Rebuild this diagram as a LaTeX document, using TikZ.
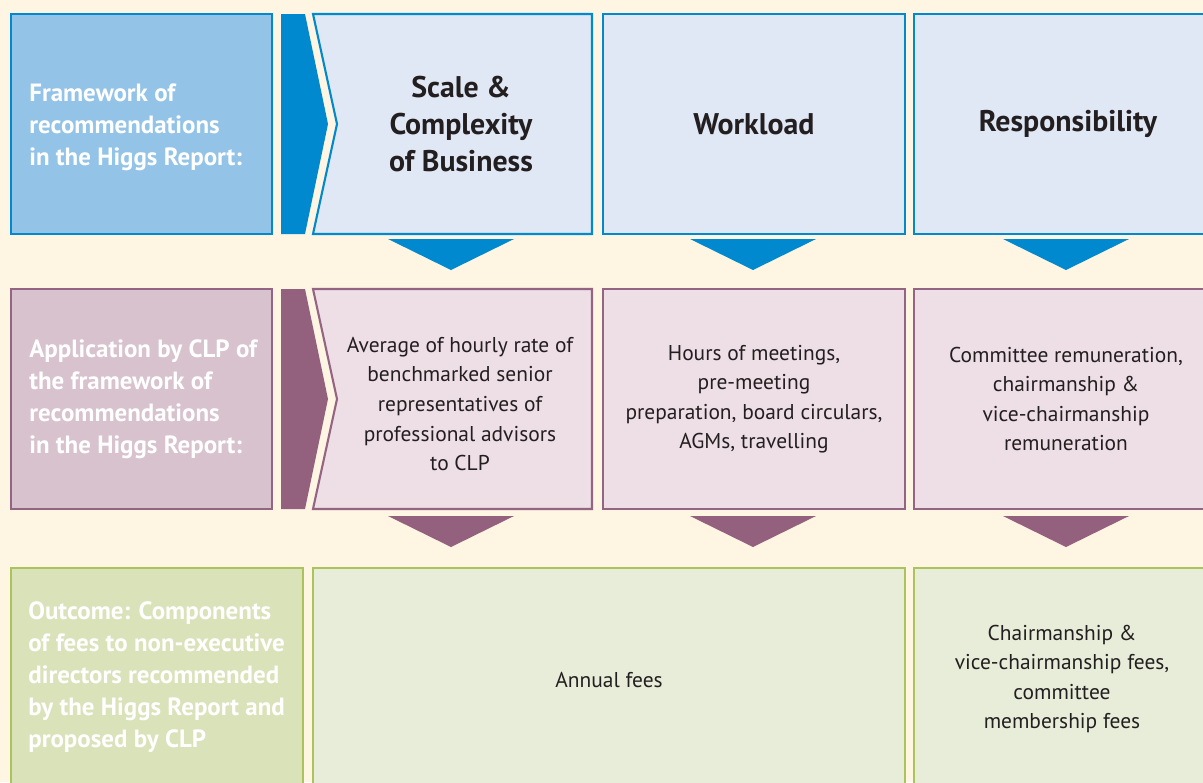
\documentclass[tikz,border=0pt]{standalone}
\usepackage{fontspec}
\setmainfont{PT Sans}
\definecolor{cream}{HTML}{FEF5E3}
\definecolor{ink}{HTML}{231F20}
\definecolor{blueline}{HTML}{0089CF}
\definecolor{bluedark}{HTML}{93C3E7}
\definecolor{bluelight}{HTML}{E1E8F5}
\definecolor{plumline}{HTML}{946483}
\definecolor{plumdark}{HTML}{D7C2CD}
\definecolor{plumlight}{HTML}{EEDEE5}
\definecolor{plumbar}{HTML}{93607E}
\definecolor{greenline}{HTML}{ABC35B}
\definecolor{greendark}{HTML}{DAE2BA}
\definecolor{greenlight}{HTML}{E8EDD9}
\tikzset{
  boxline/.style  = {line width=1.2pt},
  sidetext/.style = {text=white, inner sep=0pt, anchor=west, align=left,
                     font=\bfseries\fontsize{14.2}{18.2}\selectfont},
  headtext/.style = {text=ink, inner sep=0pt, align=center,
                     font=\bfseries\fontsize{17}{21}\selectfont},
  celltext/.style = {text=ink, inner sep=0pt, align=center,
                     font=\fontsize{12.2}{16.8}\selectfont}
}

\begin{document}
\begin{tikzpicture}[x=0.02cm,y=-0.02cm]
  \clip (0,0) rectangle (1203,782);
  \fill[cream] (0,0) rectangle (1203,782);

  % framework row
  \filldraw[boxline, draw=blueline, fill=bluedark] (11,14) rectangle (272,234);
  \fill[blueline] (281,14) -- (305,14) -- (328,124) -- (305,234) -- (281,234) -- cycle;
  \filldraw[boxline, draw=blueline, fill=bluelight]
    (313,14) -- (592,14) -- (592,234) -- (313,234) -- (337,124) -- cycle;
  \filldraw[boxline, draw=blueline, fill=bluelight] (603,14) rectangle (905,234);
  \filldraw[boxline, draw=blueline, fill=bluelight] (914,14) rectangle (1230,234);
  \foreach \x in {451,753,1066}
    \fill[blueline] (\x-63,239) -- (\x+63,239) -- (\x,270) -- cycle;

  % application row
  \filldraw[boxline, draw=plumline, fill=plumdark] (11,289) rectangle (272,509);
  \fill[plumbar] (281,289) -- (305,289) -- (328,399) -- (305,509) -- (281,509) -- cycle;
  \filldraw[boxline, draw=plumline, fill=plumlight]
    (313,289) -- (592,289) -- (592,509) -- (313,509) -- (337,399) -- cycle;
  \filldraw[boxline, draw=plumline, fill=plumlight] (603,289) rectangle (905,509);
  \filldraw[boxline, draw=plumline, fill=plumlight] (914,289) rectangle (1230,509);
  \foreach \x in {451,753,1066}
    \fill[plumbar] (\x-63,516) -- (\x+63,516) -- (\x,547) -- cycle;

  % outcome row
  \filldraw[boxline, draw=greenline, fill=greendark] (11,568) rectangle (303,800);
  \filldraw[boxline, draw=greenline, fill=greenlight] (313,568) rectangle (905,800);
  \filldraw[boxline, draw=greenline, fill=greenlight] (914,568) rectangle (1230,800);

  \node[sidetext] (frame) at (29,127)
    {Framework of\\recommendations\\in the Higgs Report:};
  \node[headtext] (scale) at (461,124) {Scale \&\\Complexity\\of Business};
  \node[headtext] (work)  at (754,124) {Workload};
  \node[headtext] (resp)  at (1068,124) {Responsibility};

  \node[sidetext] (apply) at (29,399)
    {Application by CLP of\\the framework of\\recommendations\\in the Higgs Report:};
  \node[celltext] (rate) at (460,404)
    {Average of hourly rate of\\benchmarked senior\\representatives of\\professional advisors\\to CLP};
  \node[celltext] (hours) at (754,399)
    {Hours of meetings,\\pre-meeting\\preparation, board circulars,\\AGMs, travelling};
  \node[celltext] (comm) at (1066,399)
    {Committee remuneration,\\chairmanship \&\\vice-chairmanship\\remuneration};

  \node[sidetext] (outcome) at (28,677)
    {Outcome: Components\\of fees to non-executive\\directors recommended\\by the Higgs Report and\\proposed by CLP};
  \node[celltext] (annual) at (609,680) {Annual fees};
  \node[celltext] (chair) at (1062,679)
    {Chairmanship \&\\vice-chairmanship fees,\\committee\\membership fees};
\end{tikzpicture}
\end{document}
